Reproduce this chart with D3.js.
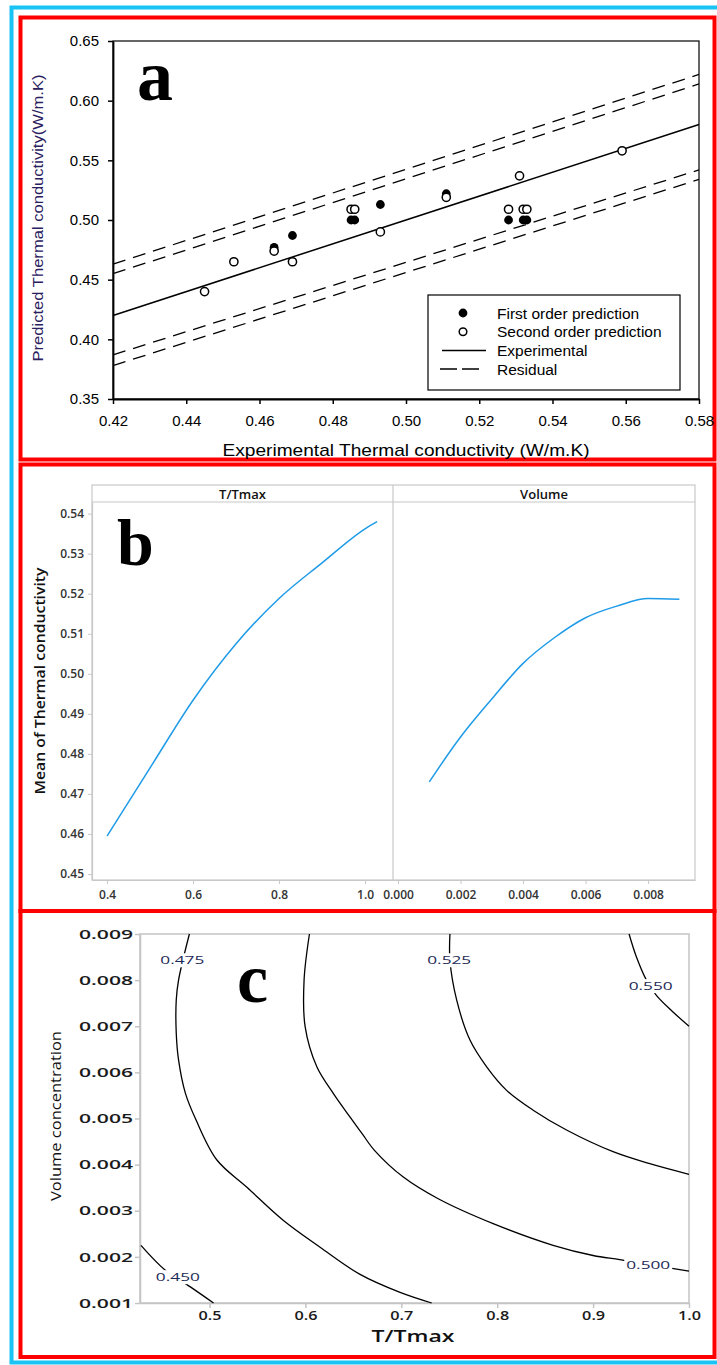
<!DOCTYPE html>
<html>
<head>
<meta charset="utf-8">
<script src="https://cdn.jsdelivr.net/npm/d3@7"></script>
<style>
  body { margin: 0; background: #fff; }
  svg { display: block; }
</style>
</head>
<body>
<div id="chart"></div>
<script>
// ---------- panel a : predicted vs experimental ----------
const aXTicks = [0.42, 0.44, 0.46, 0.48, 0.50, 0.52, 0.54, 0.56, 0.58];
const aYTicks = [0.35, 0.40, 0.45, 0.50, 0.55, 0.60, 0.65];
const aFirstX = [0.464, 0.469, 0.485, 0.486, 0.493, 0.511, 0.528, 0.532, 0.533];
const aFirstY = [0.477, 0.487, 0.500, 0.500, 0.513, 0.522, 0.500, 0.500, 0.500];
const aSecondX = [0.445, 0.453, 0.464, 0.469, 0.485, 0.486, 0.493, 0.511, 0.528, 0.531, 0.532, 0.533, 0.559];
const aSecondY = [0.440, 0.465, 0.474, 0.465, 0.509, 0.509, 0.490, 0.519, 0.509, 0.537, 0.509, 0.509, 0.558];
const aExpLine = [[0.42, 0.42], [0.58, 0.58]];
const aResidualLines = [
  [[0.42, 0.463], [0.58, 0.622]],
  [[0.42, 0.455], [0.58, 0.614]],
  [[0.42, 0.387], [0.58, 0.542]],
  [[0.42, 0.378], [0.58, 0.534]]
];
const aLegend = ["First order prediction", "Second order prediction", "Experimental", "Residual"];

// ---------- panel b : main effects ----------
const bYTicks = [0.45, 0.46, 0.47, 0.48, 0.49, 0.50, 0.51, 0.52, 0.53, 0.54];
const bTTicks = [0.4, 0.6, 0.8, 1.0];
const bVTicks = [0.000, 0.002, 0.004, 0.006, 0.008];
const bTx = [0.4, 0.5, 0.6, 0.7, 0.8, 0.9, 1.0, 1.028];
const bTy = [0.4595, 0.4765, 0.4934, 0.5075, 0.5188, 0.5277, 0.5362, 0.5380];
const bVx = [0.001, 0.002, 0.003, 0.004, 0.005, 0.006, 0.007, 0.008, 0.009];
const bVy = [0.4730, 0.4842, 0.4937, 0.5026, 0.5090, 0.5140, 0.5169, 0.5188, 0.5186];
const bPanels = ["T/Tmax", "Volume"];

// ---------- panel c : contour plot ----------
const cXTicks = [0.5, 0.6, 0.7, 0.8, 0.9, 1.0];
const cYTicks = [0.001, 0.002, 0.003, 0.004, 0.005, 0.006, 0.007, 0.008, 0.009];
const c450 = [[0.4285, 0.00225], [0.4539, 0.00171], [0.4800, 0.00135], [0.5042, 0.0010]];
const c475 = [[0.4790, 0.0090], [0.4677, 0.0080], [0.4653, 0.00757], [0.4653, 0.00685], [0.4677, 0.00627],
  [0.4748, 0.00555], [0.4861, 0.00496], [0.5077, 0.00410], [0.5390, 0.00351], [0.5771, 0.00279],
  [0.6153, 0.00221], [0.6570, 0.00162], [0.6987, 0.00123], [0.7317, 0.0010]];
const c500 = [[0.6042, 0.0090], [0.5986, 0.0080], [0.5997, 0.00699], [0.6119, 0.00612], [0.6292, 0.00554],
  [0.6466, 0.00503], [0.6595, 0.00466], [0.6720, 0.00431], [0.7021, 0.00373], [0.7385, 0.00326],
  [0.7958, 0.00272], [0.8583, 0.00225], [0.9000, 0.00203], [0.9278, 0.00194], [0.9650, 0.00181], [1.0, 0.00169]];
const c525 = [[0.7507, 0.0090], [0.7507, 0.00843], [0.7577, 0.00757], [0.7716, 0.00670], [0.7890, 0.00612],
  [0.8098, 0.00561], [0.8375, 0.00518], [0.8723, 0.00475], [0.9208, 0.00428], [0.9591, 0.00402], [1.0, 0.00379]];
const c550 = [[0.9375, 0.0090], [0.9452, 0.0085], [0.9556, 0.0080], [0.9660, 0.00767], [0.9833, 0.00731], [1.0, 0.0070]];
const cLevels = ["0.450", "0.475", "0.500", "0.525", "0.550"];
const cLabelT = [0.467, 0.4716, 0.9575, 0.750, 0.960];
const cLabelV = [0.00156, 0.00843, 0.00182, 0.00843, 0.00787];

const W = 717, H = 1365;
const svg = d3.select("#chart").append("svg").attr("width", W).attr("height", H);
svg.append("rect").attr("width", W).attr("height", H).attr("fill", "#fff");

// outer cyan frame and red panel frames
svg.append("rect").attr("x", 11.5).attr("y", 7.5).attr("width", 720).attr("height", 1355)
  .attr("fill", "none").attr("stroke", "#19c3f3").attr("stroke-width", 4);
[[17.5, 459.5], [464.5, 911], [911, 1357]].forEach(([y0, y1]) => {
  svg.append("rect").attr("x", 20.5).attr("y", y0).attr("width", 694).attr("height", y1 - y0)
    .attr("fill", "none").attr("stroke", "#ff0000").attr("stroke-width", 4);
});

const sans = "'Liberation Sans', Arial, sans-serif";
const ui = "'Open Sans', 'Noto Sans', sans-serif";
const serif = "'Liberation Serif', 'DejaVu Serif', serif";

function drawPanelA() {
  const x = d3.scaleLinear().domain([0.42, 0.58]).range([113, 699]);
  const y = d3.scaleLinear().domain([0.35, 0.65]).range([399, 41]);
  const g = svg.append("g");

  g.append("rect").attr("x", 113).attr("y", 41).attr("width", 586).attr("height", 358)
    .attr("fill", "none").attr("stroke", "#000").attr("stroke-width", 1.2);

  const ax = g.append("g").attr("transform", "translate(0,399)")
    .call(d3.axisBottom(x).tickValues(aXTicks).tickFormat(d3.format(".2f")).tickSize(5).tickSizeOuter(0).tickPadding(11));
  const ay = g.append("g").attr("transform", "translate(113,0)")
    .call(d3.axisLeft(y).tickValues(aYTicks).tickFormat(d3.format(".2f")).tickSize(5).tickSizeOuter(0).tickPadding(9));
  [ax, ay].forEach(a => {
    a.select(".domain").attr("stroke", "#000").attr("stroke-width", 1.8);
    a.selectAll(".tick line").attr("stroke", "#000").attr("stroke-width", 1.5);
    a.selectAll("text").attr("font-family", sans).attr("font-size", 15).attr("fill", "#000");
  });

  const line = d3.line().x(d => x(d[0])).y(d => y(d[1]));
  aResidualLines.forEach(l => {
    g.append("path").attr("d", line(l)).attr("fill", "none").attr("stroke", "#000")
      .attr("stroke-width", 1.3).attr("stroke-dasharray", "13,8");
  });
  g.append("path").attr("d", line(aExpLine)).attr("fill", "none").attr("stroke", "#000").attr("stroke-width", 1.5);

  g.selectAll(".first").data(aFirstX).enter().append("circle")
    .attr("cx", d => x(d)).attr("cy", (d, i) => y(aFirstY[i])).attr("r", 4.4).attr("fill", "#000");
  g.selectAll(".second").data(aSecondX).enter().append("circle")
    .attr("cx", d => x(d)).attr("cy", (d, i) => y(aSecondY[i])).attr("r", 4.1)
    .attr("fill", "#fff").attr("stroke", "#000").attr("stroke-width", 1.5);

  // legend
  const lg = g.append("g");
  lg.append("rect").attr("x", 428).attr("y", 295).attr("width", 252).attr("height", 95)
    .attr("fill", "#fff").attr("stroke", "#000").attr("stroke-width", 1.2);
  aLegend.forEach((t, i) => {
    const yy = 313 + i * 18.7;
    if (i === 0) lg.append("circle").attr("cx", 463).attr("cy", yy).attr("r", 4.4).attr("fill", "#000");
    if (i === 1) lg.append("circle").attr("cx", 463).attr("cy", yy).attr("r", 3.8).attr("fill", "#fff")
      .attr("stroke", "#000").attr("stroke-width", 1.5);
    if (i === 2) lg.append("line").attr("x1", 442).attr("x2", 486).attr("y1", yy).attr("y2", yy)
      .attr("stroke", "#000").attr("stroke-width", 1.5);
    if (i === 3) lg.append("line").attr("x1", 440).attr("x2", 480).attr("y1", yy).attr("y2", yy)
      .attr("stroke", "#000").attr("stroke-width", 1.5).attr("stroke-dasharray", "17,5");
    lg.append("text").attr("x", 497).attr("y", yy).attr("dy", "0.36em").text(t)
      .attr("font-family", sans).attr("font-size", 15.5).attr("fill", "#000");
  });

  g.append("text").attr("x", 406).attr("y", 456).attr("text-anchor", "middle")
    .attr("textLength", 367).attr("lengthAdjust", "spacingAndGlyphs")
    .attr("font-family", sans).attr("font-size", 17).attr("fill", "#000")
    .text("Experimental Thermal conductivity (W/m.K)");
  g.append("text").attr("transform", "translate(43,218) rotate(-90)").attr("text-anchor", "middle")
    .attr("textLength", 287).attr("lengthAdjust", "spacingAndGlyphs")
    .attr("font-family", sans).attr("font-size", 14).attr("fill", "#2a2060")
    .text("Predicted Thermal conductivity(W/m.K)");

  g.append("text").attr("x", 137).attr("y", 100).text("a")
    .attr("font-family", serif).attr("font-weight", "bold").attr("font-size", 72).attr("fill", "#000");
}

function drawPanelB() {
  const xT = d3.scaleLinear().domain([0.365, 1.065]).range([92, 393]);
  const xV = d3.scaleLinear().domain([-0.00016, 0.0095]).range([393, 695]);
  const y = d3.scaleLinear().domain([0.4485, 0.5429]).range([880, 502]);
  const g = svg.append("g");
  const grey = "#c8c8c8";

  g.append("rect").attr("x", 92).attr("y", 485).attr("width", 603).attr("height", 395)
    .attr("fill", "none").attr("stroke", grey).attr("stroke-width", 1.2);
  g.append("line").attr("x1", 92).attr("x2", 695).attr("y1", 502).attr("y2", 502).attr("stroke", grey).attr("stroke-width", 1.2);
  g.append("line").attr("x1", 393).attr("x2", 393).attr("y1", 485).attr("y2", 880).attr("stroke", grey).attr("stroke-width", 1.2);

  bPanels.forEach((t, i) => {
    g.append("text").attr("x", i === 0 ? 242.5 : 544).attr("y", 494).attr("dy", "0.35em")
      .attr("text-anchor", "middle").attr("font-family", ui).attr("font-weight", 600)
      .attr("font-size", 13).attr("fill", "#111").text(t);
  });

  const ay = g.append("g").attr("transform", "translate(92,0)")
    .call(d3.axisLeft(y).tickValues(bYTicks).tickFormat(d3.format(".2f")).tickSize(4).tickSizeOuter(0).tickPadding(4));
  const axT = g.append("g").attr("transform", "translate(0,880)")
    .call(d3.axisBottom(xT).tickValues(bTTicks).tickFormat(d3.format(".1f")).tickSize(4).tickSizeOuter(0).tickPadding(6));
  const axV = g.append("g").attr("transform", "translate(0,880)")
    .call(d3.axisBottom(xV).tickValues(bVTicks).tickFormat(d3.format(".3f")).tickSize(4).tickSizeOuter(0).tickPadding(6));
  [ay, axT, axV].forEach(a => {
    a.select(".domain").attr("stroke", grey).attr("stroke-width", 1.2);
    a.selectAll(".tick line").attr("stroke", grey);
    a.selectAll("text").attr("font-family", ui).attr("font-weight", 600).attr("font-size", 12).attr("fill", "#333");
  });

  const lineT = d3.line().x(d => xT(d)).y((d, i) => y(bTy[i])).curve(d3.curveMonotoneX);
  const lineV = d3.line().x(d => xV(d)).y((d, i) => y(bVy[i])).curve(d3.curveMonotoneX);
  g.append("path").attr("d", lineT(bTx)).attr("fill", "none").attr("stroke", "#1f9be8").attr("stroke-width", 1.5);
  g.append("path").attr("d", lineV(bVx)).attr("fill", "none").attr("stroke", "#1f9be8").attr("stroke-width", 1.5);

  g.append("text").attr("transform", "translate(45,681) rotate(-90)").attr("text-anchor", "middle")
    .attr("textLength", 227).attr("lengthAdjust", "spacingAndGlyphs")
    .attr("font-family", ui).attr("font-weight", 600).attr("font-size", 13.5).attr("fill", "#111")
    .text("Mean of Thermal conductivity");

  g.append("text").attr("x", 117).attr("y", 565).text("b")
    .attr("font-family", serif).attr("font-weight", "bold").attr("font-size", 66).attr("fill", "#000");
}

function drawPanelC() {
  const x = d3.scaleLinear().domain([0.4275, 1.0]).range([140, 689]);
  const y = d3.scaleLinear().domain([0.001, 0.009]).range([1303, 934]);
  const g = svg.append("g");
  const grey = "#c4c4c4";

  g.append("rect").attr("x", 140).attr("y", 934).attr("width", 549).attr("height", 369)
    .attr("fill", "none").attr("stroke", grey).attr("stroke-width", 1.5);

  const ay = g.append("g").attr("transform", "translate(140,0)")
    .call(d3.axisLeft(y).tickValues(cYTicks).tickFormat(d3.format(".3f")).tickSize(5).tickSizeOuter(0).tickPadding(2));
  const ax = g.append("g").attr("transform", "translate(0,1303)")
    .call(d3.axisBottom(x).tickValues(cXTicks).tickFormat(d3.format(".1f")).tickSize(5).tickSizeOuter(0).tickPadding(3));
  [ay, ax].forEach(a => {
    a.select(".domain").attr("stroke", grey).attr("stroke-width", 1.5);
    a.selectAll(".tick line").attr("stroke", grey).attr("stroke-width", 1.5);
    a.selectAll("text").attr("font-family", ui).attr("font-weight", 600).attr("font-size", 13)
      .attr("fill", "#1a1a1a").attr("lengthAdjust", "spacingAndGlyphs");
  });
  ay.selectAll("text").attr("textLength", 54);
  ax.selectAll("text").attr("textLength", 23);

  const line = d3.line().x(d => x(d[0])).y(d => y(d[1])).curve(d3.curveCatmullRom);
  [c450, c475, c500, c525, c550].forEach(c => {
    g.append("path").attr("d", line(c)).attr("fill", "none").attr("stroke", "#000").attr("stroke-width", 1.3);
  });

  cLevels.forEach((t, i) => {
    const px = x(cLabelT[i]), py = y(cLabelV[i]);
    g.append("rect").attr("x", px - 24).attr("y", py - 7).attr("width", 48).attr("height", 14).attr("fill", "#fff");
    g.append("text").attr("x", px).attr("y", py).attr("dy", "0.36em").attr("text-anchor", "middle")
      .attr("textLength", 44).attr("lengthAdjust", "spacingAndGlyphs")
      .attr("font-family", ui).attr("font-size", 11.5).attr("fill", "#1c2a56").text(t);
  });

  g.append("text").attr("x", 413).attr("y", 1342).attr("text-anchor", "middle")
    .attr("textLength", 83).attr("lengthAdjust", "spacingAndGlyphs")
    .attr("font-family", ui).attr("font-weight", 600).attr("font-size", 17).attr("fill", "#111").text("T/Tmax");
  g.append("text").attr("transform", "translate(61,1116) rotate(-90)").attr("text-anchor", "middle")
    .attr("textLength", 170).attr("lengthAdjust", "spacingAndGlyphs")
    .attr("font-family", ui).attr("font-size", 15).attr("fill", "#111").text("Volume concentration");

  g.append("text").attr("x", 237).attr("y", 1002).text("c")
    .attr("font-family", serif).attr("font-weight", "bold").attr("font-size", 70).attr("fill", "#000");
}

drawPanelA();
drawPanelB();
drawPanelC();
</script>
</body>
</html>
